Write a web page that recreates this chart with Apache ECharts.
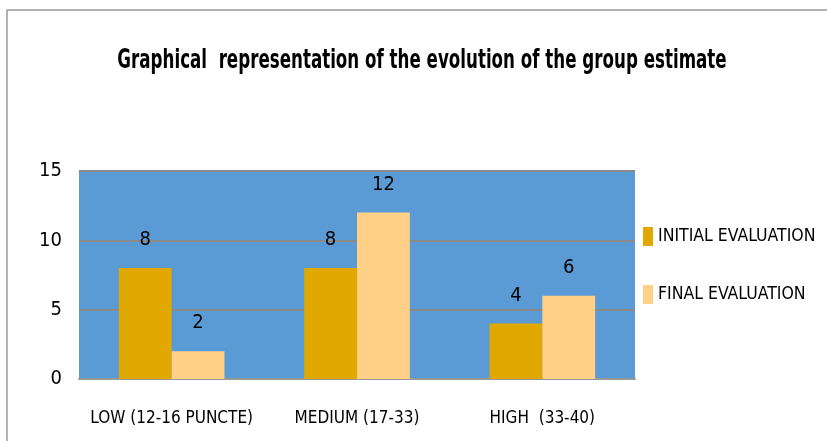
<!DOCTYPE html>
<html>
<head>
<meta charset="utf-8">
<script src="https://cdn.jsdelivr.net/npm/echarts@6/dist/echarts.min.js"></script>
<style>
  html, body { margin: 0; padding: 0; background: #fff; }
  #chart { width: 827px; height: 441px; }
</style>
</head>
<body>
<div id="chart"></div>
<script>
const categories = ["LOW (12-16 PUNCTE)", "MEDIUM (17-33)", "HIGH  (33-40)"];
const initialEvaluation = [8, 8, 4];
const finalEvaluation = [2, 12, 6];
const seriesNames = ["INITIAL EVALUATION", "FINAL EVALUATION"];
const yTicks = { min: 0, max: 15, interval: 5 };
const titleText = "Graphical  representation of the evolution of the group estimate";

const narrow = '"DejaVu Sans Condensed", "Liberation Sans Narrow", "Liberation Sans", sans-serif';

const labelStyle = {
  show: true,
  position: "top",
  distance: 18,
  color: "#000",
  fontSize: 20,
  fontFamily: narrow,
};

const chart = echarts.init(document.getElementById("chart"));
chart.setOption({
  backgroundColor: "#fff",
  animation: false,
  graphic: [
    {
      // outer chart frame (runs off the right/bottom edge in the reference)
      type: "rect",
      shape: { x: 7, y: 10, width: 900, height: 500 },
      style: { fill: "none", stroke: "#999", lineWidth: 1.5 },
      silent: true,
    },
    {
      // title, squeezed sideways like the condensed original
      type: "text",
      x: 422,
      y: 61,
      scaleX: 0.714,
      style: {
        text: titleText,
        x: 0,
        y: 0,
        align: "center",
        verticalAlign: "middle",
        fill: "#000",
        fontSize: 26,
        fontWeight: "bold",
        fontFamily: narrow,
      },
      silent: true,
    },
  ],
  legend: {
    orient: "vertical",
    left: 638,
    top: 222,
    itemWidth: 10,
    itemHeight: 19,
    itemGap: 39,
    icon: "rect",
    textStyle: { color: "#000", fontSize: 17.5, fontFamily: narrow },
    data: seriesNames,
  },
  grid: {
    left: 79,
    right: 192,
    top: 171,
    bottom: 62,
    show: true,
    backgroundColor: "#5B9BD5",
    borderWidth: 0,
  },
  xAxis: {
    type: "category",
    data: categories,
    axisLine: { show: true, lineStyle: { color: "#999", width: 2 } },
    axisTick: { show: false },
    axisLabel: {
      interval: 0,
      color: "#000",
      fontSize: 17,
      fontFamily: narrow,
      margin: 31,
    },
  },
  yAxis: {
    type: "value",
    min: yTicks.min,
    max: yTicks.max,
    interval: yTicks.interval,
    axisLine: { show: false },
    axisTick: { show: false },
    splitLine: { show: true, lineStyle: { color: "#8a8a8a", width: 2 } },
    axisLabel: {
      color: "#000",
      fontSize: 20,
      fontFamily: narrow,
      margin: 17,
    },
  },
  series: [
    {
      name: seriesNames[0],
      type: "bar",
      data: initialEvaluation,
      barGap: "0%",
      barCategoryGap: "43%",
      itemStyle: { color: "#E0A800" },
      label: labelStyle,
    },
    {
      name: seriesNames[1],
      type: "bar",
      data: finalEvaluation,
      itemStyle: { color: "#FFD085" },
      label: labelStyle,
    },
  ],
});
</script>
</body>
</html>
